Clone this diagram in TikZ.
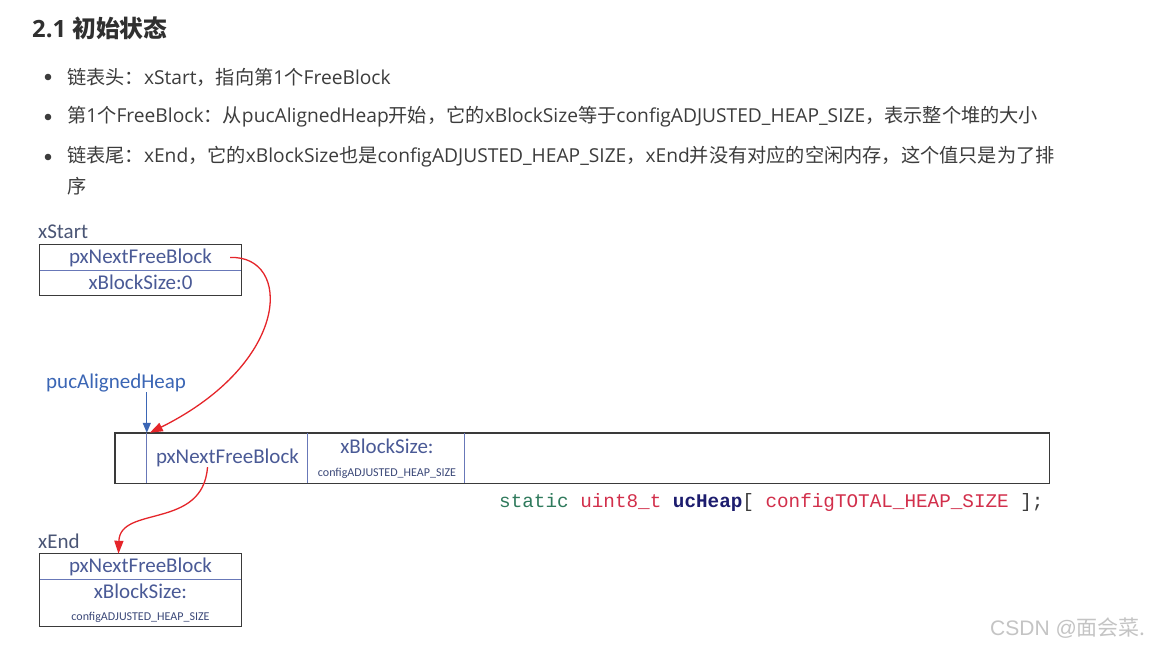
\documentclass[tikz,border=0pt]{standalone}
\usepackage{fontspec}
\setmainfont{Carlito}
\newfontfamily\cjk{Noto Sans CJK SC}
\newfontfamily\lat{Open Sans}
\newfontfamily\arialike{Liberation Sans}
\setmonofont{Liberation Mono}
\usetikzlibrary{arrows.meta}
\definecolor{txt}{HTML}{3C3C3C}
\definecolor{lab}{HTML}{4A5575}
\definecolor{cellc}{HTML}{4A5A96}
\definecolor{pblue}{HTML}{3B66B5}
\definecolor{ared}{HTML}{E5252A}
\definecolor{divb}{HTML}{6878B8}
\definecolor{bord}{HTML}{3A3A3A}
\definecolor{cgreen}{HTML}{2F7A5C}
\definecolor{cred}{HTML}{D22F4B}
\definecolor{cnavy}{HTML}{1C1C6E}
\definecolor{wm}{HTML}{C4C4C4}
\newcommand\zh[1]{{\cjk #1}}
\tikzset{
  para/.style={anchor=west,inner sep=0pt,text=txt,font=\lat\fontsize{19.2}{23}\selectfont},
  lbl/.style={inner sep=0pt,text=lab,font=\fontsize{21}{25}\selectfont},
  celltxt/.style={inner sep=0pt,text=cellc,font=\fontsize{21}{25}\selectfont},
  smalltxt/.style={inner sep=0pt,text=cellc!80!black,font=\fontsize{12}{14}\selectfont},
  cellbox/.style={inner sep=0pt,minimum width=201pt},
  redarrow/.style={draw=ared,line width=1.3pt,-{Triangle[length=13pt,width=9pt]}},
  bluearrow/.style={draw=pblue,line width=1.3pt,-{Triangle[length=10pt,width=8pt]}},
  divline/.style={draw=divb,line width=1pt},
  outer/.style={draw=bord,line width=1pt}
}
\begin{document}
\begin{tikzpicture}[x=1pt,y=-1pt]
\useasboundingbox[fill=white] (0,0) rectangle (1154,647);
% title
\node[anchor=west,inner sep=0pt,text=txt!80!black,font=\lat\bfseries\fontsize{23.8}{28}\selectfont] (title) at (32,28) {2.1 \zh{\bfseries 初始状态}};
% bullets
\fill[txt] (48,77) circle (3.3pt);
\fill[txt] (48,117) circle (3.3pt);
\fill[txt] (48,157) circle (3.3pt);
\node[para] (l1) at (67,77) {\zh{链表头：}xStart\zh{，指向第}1\zh{个}FreeBlock};
\node[para] (l2) at (67,117) {\zh{第}1\zh{个}FreeBlock\zh{：从}pucAlignedHeap\zh{开始，它的}xBlockSize\zh{等于}configADJUSTED\_HEAP\_SIZE\zh{，表示整个堆的大小}};
\node[para] (l3) at (67,157) {\zh{链表尾：}xEnd\zh{，它的}xBlockSize\zh{也是}configADJUSTED\_HEAP\_SIZE\zh{，}xEnd\zh{并没有对应的空闲内存，这个值只是为了排}};
\node[para] (l4) at (67,186) {\zh{序}};

% xStart box
\node[lbl,anchor=west] (xs) at (38,232) {xStart};
\node[cellbox,minimum height=25pt] (s1) at (140.5,257.5) {};
\node[cellbox,minimum height=25pt] (s2) at (140.5,282.5) {};
\node[celltxt] (s1t) at (140.5,257.5) {pxNextFreeBlock};
\node[celltxt] (s2t) at (140.5,282.5) {xBlockSize:0};
\draw[divline] (s1.south west) -- (s1.south east);
\draw[outer] (s1.north west) rectangle (s2.south east);

% pucAlignedHeap
\node[lbl,text=pblue,anchor=west] (pa) at (46,383) {pucAlignedHeap};

% heap
\node[outer,inner sep=0pt,minimum width=934pt,minimum height=50pt] (heap) at (582,458) {};
\node[inner sep=0pt,minimum width=161pt,minimum height=50pt] (h1) at (227.5,458) {};
\node[inner sep=0pt,minimum width=156pt,minimum height=50pt] (h2) at (386,458) {};
\node[celltxt] (h1t) at (227.5,458) {pxNextFreeBlock};
\node[celltxt] (h2a) at (387,446) {xBlockSize:};
\node[smalltxt] (h2b) at (387,473) {configADJUSTED\_HEAP\_SIZE};
\draw[divline] (h1.north west) -- (h1.south west);
\draw[divline] (h2.north west) -- (h2.south west);
\draw[divline] (h2.north east) -- (h2.south east);
\draw[outer] (heap.north west) rectangle (heap.south east);

% code
\node[anchor=west,inner sep=0pt,font=\ttfamily\fontsize{19.3}{23}\selectfont] (code) at (499,503)
 {\textcolor{cgreen}{static} \textcolor{cred}{uint8\_t} \textcolor{cnavy}{\bfseries ucHeap}\textcolor{txt}{[} \textcolor{cred}{configTOTAL\_HEAP\_SIZE} \textcolor{txt}{];}};

% xEnd box
\node[lbl,anchor=west] (xe) at (38,541) {xEnd};
\node[cellbox,minimum height=25pt] (e1) at (140.5,566.5) {};
\node[cellbox,minimum height=47pt] (e2) at (140.5,602.5) {};
\node[celltxt] (e1t) at (140.5,566.5) {pxNextFreeBlock};
\node[celltxt] (e2a) at (140.5,591) {xBlockSize:};
\node[smalltxt] (e2b) at (140.5,617) {configADJUSTED\_HEAP\_SIZE};
\draw[divline] (e1.south west) -- (e1.south east);
\draw[outer] (e1.north west) rectangle (e2.south east);

% arrows
\draw[redarrow] ([xshift=18pt]s1t.east) .. controls (292,255) and (292,362) .. ([xshift=3pt]h1.north west);
\draw[bluearrow] (pa.south -| h1.west) -- (h1.north west);
\draw[redarrow] ([xshift=-20pt]h1t.south) .. controls (203,530) and (120,505) .. ([xshift=-22pt]e1.north);

% watermark
\node[anchor=west,inner sep=0pt,text=wm,font=\fontsize{21}{25}\selectfont] (wmk) at (990,628) {{\arialike CSDN @}\zh{面会菜.}};
\end{tikzpicture}
\end{document}
